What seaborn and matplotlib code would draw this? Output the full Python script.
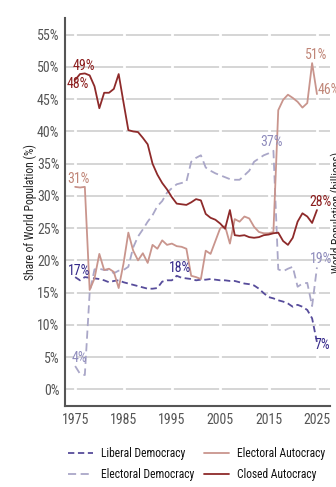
import matplotlib
matplotlib.use("Agg")
import matplotlib.pyplot as plt
from matplotlib import font_manager as fm
import seaborn as sns
import pandas as pd

# ---------------- data ----------------
years = list(range(1975, 2026))

liberal_democracy = [
    17.4, 16.9, 17.4, 17.3, 17.2, 17.1, 16.9, 16.6, 16.8, 16.9,
    16.6, 16.4, 16.2, 16.0, 15.8, 15.6, 15.6, 15.7, 16.7, 16.9,
    16.9, 17.6, 17.3, 17.2, 17.1, 16.9, 17.0, 17.0, 17.1, 17.0,
    16.9, 16.9, 16.8, 16.8, 16.6, 16.4, 16.3, 16.1, 15.6, 14.9,
    14.3, 14.1, 13.8, 13.6, 13.3, 12.8, 13.1, 12.8, 12.3, 11.0, 7.3]

electoral_democracy = [
    3.6, 2.4, 2.2, 15.0, 18.6, 18.7, 18.5, 18.5, 18.0, 18.4,
    18.5, 19.0, 22.0, 23.7, 24.8, 26.0, 27.0, 28.4, 29.2, 30.5,
    31.2, 31.8, 32.0, 32.2, 35.3, 35.9, 36.3, 34.4, 33.9, 33.5,
    33.2, 32.9, 32.6, 32.5, 32.5, 33.2, 33.9, 35.3, 35.8, 36.3,
    36.6, 37.0, 18.6, 18.3, 18.7, 19.0, 15.9, 16.4, 16.5, 12.9, 18.9]

electoral_autocracy = [
    31.4, 31.3, 31.4, 15.4, 17.2, 21.0, 18.5, 18.7, 18.2, 15.7,
    19.5, 24.3, 21.5, 20.0, 21.1, 19.6, 22.4, 21.8, 23.1, 22.4,
    22.6, 22.2, 22.1, 21.8, 17.6, 17.4, 17.1, 21.5, 21.0, 23.0,
    25.0, 25.3, 22.6, 26.4, 26.0, 26.8, 26.5, 25.2, 24.4, 24.2,
    24.2, 24.4, 43.3, 44.9, 45.7, 45.2, 44.6, 43.7, 44.4, 50.6, 45.8]

closed_autocracy = [
    48.0, 48.9, 49.0, 48.7, 47.0, 43.6, 46.0, 46.0, 46.6, 48.9,
    44.5, 40.2, 40.0, 39.9, 39.0, 38.0, 35.0, 33.3, 32.0, 31.0,
    29.8, 28.8, 28.7, 28.6, 29.0, 29.5, 29.3, 27.2, 26.6, 26.3,
    25.7, 24.9, 27.8, 23.9, 23.8, 23.9, 23.6, 23.5, 23.6, 23.9,
    24.0, 24.2, 24.3, 23.0, 22.4, 23.5, 26.0, 27.3, 26.8, 25.8, 27.8]

regimes = ["Liberal Democracy", "Electoral Democracy",
           "Electoral Autocracy", "Closed Autocracy"]
x_ticks = [1975, 1985, 1995, 2005, 2015, 2025]
y_ticks = [0, 5, 10, 15, 20, 25, 30, 35, 40, 45, 50, 55]

# labelled points: (regime, year)
labelled = [
    ("Closed Autocracy", 1976), ("Closed Autocracy", 1975),
    ("Electoral Autocracy", 1975), ("Liberal Democracy", 1975),
    ("Electoral Democracy", 1975), ("Liberal Democracy", 1996),
    ("Electoral Democracy", 2016), ("Electoral Autocracy", 2024),
    ("Electoral Autocracy", 2025), ("Closed Autocracy", 2025),
    ("Electoral Democracy", 2025), ("Liberal Democracy", 2025),
]
label_offsets = [(4, 8), (3, -4), (3.5, 8), (3.5, 6), (4, 8.5), (3, 8),
                 (-1.5, 8.7), (4, 8), (1, 4), (4, 8), (4, 8.6), (5, -3)]
label_ha = ["center"] * 8 + ["left"] + ["center"] * 3

# ---------------- font: pick a condensed sans if one is installed ----------
COND = ("condensed", "semi-condensed", "extra-condensed", "ultra-condensed")


def _w(f):
    try:
        return int(f.weight)
    except (TypeError, ValueError):
        return {"normal": 400, "regular": 400, "book": 400,
                "medium": 500}.get(str(f.weight).lower(), 0)


cands = [f for f in fm.fontManager.ttflist
         if (str(f.stretch) in COND or "Narrow" in f.name or "Condensed" in f.name
             or "Cond" in f.fname)
         and f.style == "normal" and 350 <= _w(f) <= 500]
pref = ["Liberation Sans Narrow", "Roboto Condensed", "Noto Sans", "Open Sans",
        "DejaVu Sans", "Lato", "Inter", "Roboto"]
cands.sort(key=lambda f: next((i for i, p in enumerate(pref) if f.name.startswith(p)), 99))
if cands:
    FONT = cands[0].name
    STRETCH = str(cands[0].stretch) if str(cands[0].stretch) in COND else "normal"
    FS, LFS, AFS = 10, 8.3, 8.3
else:
    FONT, STRETCH, FS, LFS, AFS = "Roboto", "normal", 8.6, 7.4, 7.2

sns.set_style("white")
plt.rcParams["font.family"] = [FONT, "DejaVu Sans"]
plt.rcParams["font.stretch"] = STRETCH

# ---------------- style ----------------
line_colors = {"Liberal Democracy": "#574c9b", "Electoral Democracy": "#aaa7c8",
               "Electoral Autocracy": "#c9958d", "Closed Autocracy": "#8e2a2a"}
text_colors = {"Liberal Democracy": "#35298a", "Electoral Democracy": "#8f8cbc",
               "Electoral Autocracy": "#c08678", "Closed Autocracy": "#8b1c1c"}
dashes = {"Liberal Democracy": (3.5, 2.0), "Electoral Democracy": (4.5, 2.5),
          "Electoral Autocracy": "", "Closed Autocracy": ""}

series = {"Liberal Democracy": liberal_democracy,
          "Electoral Democracy": electoral_democracy,
          "Electoral Autocracy": electoral_autocracy,
          "Closed Autocracy": closed_autocracy}
df = pd.concat([pd.DataFrame({"year": years, "share": v, "regime": k})
                for k, v in series.items()], ignore_index=True)

W, H = 336, 487
fig = plt.figure(figsize=(W / 100, H / 100), dpi=100)
ax = fig.add_axes([65 / W, 81 / H, (330 - 65) / W, (406 - 18) / H])

sns.lineplot(data=df, x="year", y="share", hue="regime", style="regime",
             hue_order=regimes, style_order=regimes, palette=line_colors,
             dashes=dashes, linewidth=1.3, ax=ax, zorder=3)

ax.set_xlim(1972.9, 2027.7)
ax.set_ylim(-2.6, 57.6)
ax.set_yticks(y_ticks)
ax.set_yticklabels([f"{t}%" for t in y_ticks])
ax.set_xticks(x_ticks)
ax.set_xticklabels([str(t) for t in x_ticks])

ax.set_axisbelow(True)
ax.yaxis.grid(True, color="#d2d2d2", lw=1.3)
ax.xaxis.grid(False)
for t in x_ticks:
    ax.axvline(t, color="white", lw=2.0, zorder=1.5)

for s in ["top", "right"]:
    ax.spines[s].set_visible(False)
for s in ["left", "bottom"]:
    ax.spines[s].set_color("#555555")
    ax.spines[s].set_linewidth(1.5)

ax.tick_params(axis="y", length=3, width=1, color="#888888", pad=1,
               labelsize=FS, labelcolor="#555555")
ax.tick_params(axis="x", length=0, pad=5, labelsize=FS, labelcolor="#555555")

ax.set_xlabel("")
ax.set_ylabel("Share of World Population (%)", fontsize=AFS, color="#222222",
              labelpad=0)

fig.text(331 / W, 1 - 212 / H, "World Population (billions)", rotation=90,
         ha="left", va="center", fontsize=AFS, color="#222222")

for (reg, yr), off, ha in zip(labelled, label_offsets, label_ha):
    v = series[reg][years.index(yr)]
    ax.annotate(f"{round(v)}%", xy=(yr, v), xytext=off,
                textcoords="offset pixels", ha=ha, va="center",
                fontsize=FS, color=text_colors[reg], zorder=5)

sns.move_legend(ax, loc="upper left", bbox_to_anchor=(-0.028, -0.078),
                ncol=2, frameon=False, title=None, fontsize=LFS,
                handlelength=2.2, handletextpad=0.7, columnspacing=0.8,
                labelspacing=0.7)
leg = ax.get_legend()
for txt in leg.get_texts():
    txt.set_color("#111111")

fig.savefig("out.png", dpi=100)
